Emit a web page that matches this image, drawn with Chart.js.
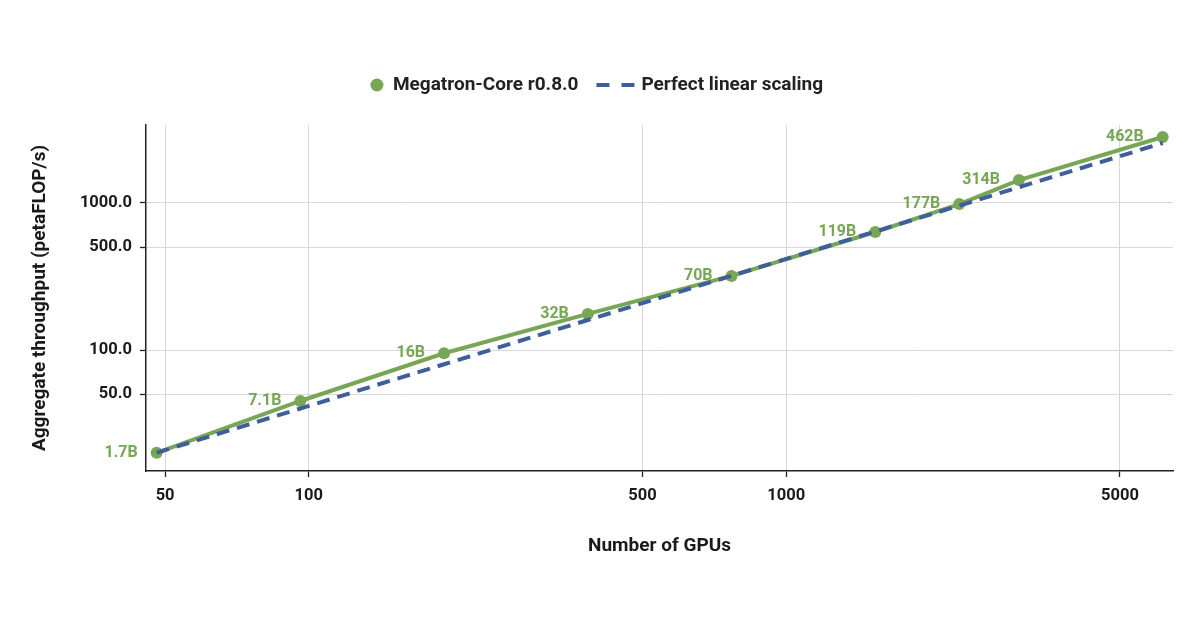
<!DOCTYPE html>
<html><head><meta charset="utf-8">
<script src="https://cdn.jsdelivr.net/npm/chart.js@4.4.1/dist/chart.umd.min.js"></script>
<style>html,body{margin:0;padding:0;background:#fff;} #wrap{width:1200px;height:630px;}</style>
</head><body><div id="wrap"><canvas id="c" width="1200" height="630"></canvas></div>
<script>
const gpus = [48, 96, 192, 384, 768, 1536, 2304, 3072, 6144];
const throughput = [20, 45, 95, 176, 319, 635, 984, 1433, 2813];
const linearScaling = [20, 40, 80, 160, 320, 640, 960, 1280, 2560];
const modelSizes = ['1.7B','7.1B','16B','32B','70B','119B','177B','314B','462B'];
const xTickValues = [50, 100, 500, 1000, 5000];
const yTickValues = [50, 100, 500, 1000];
const seriesNames = ['Megatron-Core r0.8.0', 'Perfect linear scaling'];
const xTitle = 'Number of GPUs';
const yTitle = 'Aggregate throughput (petaFLOP/s)';

const GREEN = '#77a754';
const BLUE = '#3e5e9c';
const FONT = 'Roboto, "Noto Sans", sans-serif';

const labelPlugin = {
  id: 'pointLabels',
  afterDatasetsDraw(chart) {
    const meta = chart.getDatasetMeta(0);
    const ctx = chart.ctx;
    ctx.save();
    ctx.font = 'bold 16px ' + FONT;
    ctx.fillStyle = GREEN;
    ctx.textAlign = 'right';
    ctx.textBaseline = 'middle';
    meta.data.forEach((el, i) => {
      ctx.fillText(modelSizes[i], el.x - 19, el.y);
    });
    ctx.restore();
  }
};

const legendPlugin = {
  id: 'customLegend',
  afterDraw(chart) {
    const ctx = chart.ctx;
    ctx.save();
    ctx.font = 'bold 19px ' + FONT;
    const w1 = ctx.measureText(seriesNames[0]).width;
    const w2 = ctx.measureText(seriesNames[1]).width;
    const total = 6.5 + 16 + w1 + 18 + 38 + 7 + w2 + 6.5;
    let x = 600 - total / 2;
    const y = 85;
    ctx.fillStyle = GREEN;
    ctx.beginPath();
    ctx.arc(x + 6.5, y, 6.5, 0, Math.PI * 2);
    ctx.fill();
    ctx.fillStyle = '#222';
    ctx.textAlign = 'left';
    ctx.textBaseline = 'middle';
    const t1 = x + 6.5 + 16;
    ctx.fillText(seriesNames[0], t1, y);
    const l0 = t1 + w1 + 18;
    ctx.strokeStyle = BLUE;
    ctx.lineWidth = 4;
    ctx.setLineDash([13, 12]);
    ctx.beginPath();
    ctx.moveTo(l0, y);
    ctx.lineTo(l0 + 38, y);
    ctx.stroke();
    ctx.setLineDash([]);
    ctx.fillText(seriesNames[1], l0 + 38 + 7, y);
    ctx.restore();
  }
};

new Chart(document.getElementById('c'), {
  type: 'line',
  data: {
    datasets: [
      {
        label: seriesNames[0],
        data: gpus.map((g, i) => ({x: g, y: throughput[i]})),
        borderColor: GREEN,
        backgroundColor: GREEN,
        borderWidth: 4,
        pointRadius: 6,
        pointBorderWidth: 0,
        pointBackgroundColor: GREEN,
        order: 1
      },
      {
        label: seriesNames[1],
        data: gpus.map((g, i) => ({x: g, y: linearScaling[i]})),
        borderColor: BLUE,
        borderWidth: 4,
        borderDash: [13, 8],
        pointRadius: 0,
        order: 0
      }
    ]
  },
  options: {
    responsive: false,
    devicePixelRatio: 1,
    animation: false,
    layout: {padding: {top: 125, right: 27, left: 0, bottom: 0}},
    plugins: {legend: {display: false}, tooltip: {enabled: false}},
    scales: {
      x: {
        type: 'logarithmic',
        min: 45.6,
        max: 6457,
        afterBuildTicks: s => { s.ticks = xTickValues.map(v => ({value: v})); },
        afterFit: s => { s.height = 159; },
        ticks: {
          callback: v => String(v),
          font: {family: FONT, size: 16.5, weight: 'bold'},
          color: '#1a1a1a',
          padding: 9,
          maxRotation: 0,
          autoSkip: false
        },
        grid: {color: '#d8d8d8', lineWidth: 1, tickColor: '#222', tickLength: 6, tickWidth: 1.3},
        border: {color: '#222', width: 1.5},
        title: {display: true, text: xTitle, font: {family: FONT, size: 19, weight: 'bold'}, color: '#1a1a1a', padding: {top: 0, bottom: 72}}
      },
      y: {
        type: 'logarithmic',
        min: 15.03,
        max: 3393,
        afterBuildTicks: s => { s.ticks = yTickValues.map(v => ({value: v})); },
        afterFit: s => { s.width = 146; },
        ticks: {
          callback: v => Number(v).toFixed(1),
          font: {family: FONT, size: 16.5, weight: 'bold'},
          color: '#1a1a1a',
          padding: 8,
          autoSkip: false
        },
        grid: {color: '#d8d8d8', lineWidth: 1, tickColor: '#222', tickLength: 6, tickWidth: 1.3},
        border: {color: '#222', width: 1.5},
        title: {display: true, text: yTitle, font: {family: FONT, size: 19, weight: 'bold'}, color: '#1a1a1a', padding: {top: 28.5, bottom: 0}}
      }
    }
  },
  plugins: [labelPlugin, legendPlugin]
});
</script></body></html>
